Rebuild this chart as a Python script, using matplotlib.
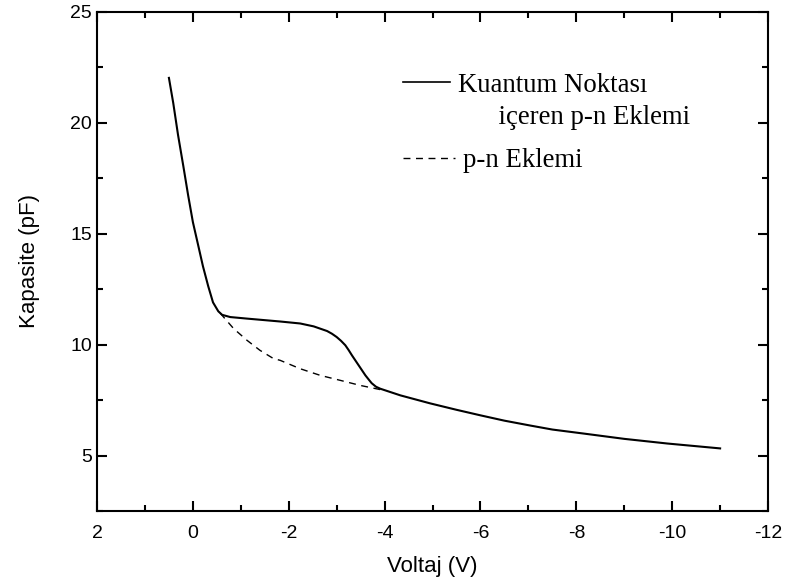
import matplotlib.pyplot as plt
from matplotlib.lines import Line2D
from matplotlib.ticker import MultipleLocator

# Kuantum noktası içeren p-n eklemi (düz çizgi)
v_qd = [0.50, 0.41, 0.31, 0.20, 0.10, 0.00, -0.11, -0.21, -0.32, -0.42, -0.53,
        -0.61, -0.78, -1.13, -1.82, -2.24, -2.52, -2.80, -2.90, -3.00, -3.09,
        -3.18, -3.25, -3.32, -3.46, -3.60, -3.67, -3.73, -3.82, -3.91, -4.12,
        -4.33, -4.95, -5.5, -6.0, -6.5, -7.04, -7.5, -8.15, -9.0, -9.9, -10.5,
        -11.0]
c_qd = [22.02, 20.89, 19.45, 18.05, 16.74, 15.52, 14.48, 13.53, 12.63, 11.90, 11.50,
        11.34, 11.24, 11.17, 11.04, 10.95, 10.82, 10.61, 10.49, 10.34, 10.17,
        9.97, 9.75, 9.51, 9.06, 8.61, 8.42, 8.26, 8.10, 8.01, 7.86,
        7.71, 7.35, 7.06, 6.81, 6.57, 6.35, 6.17, 5.99, 5.75, 5.54, 5.42,
        5.32]

# p-n eklemi (kesikli çizgi)
v_pn = [-0.57, -0.64, -0.85, -1.13, -1.40, -1.68, -1.82, -2.24, -2.66, -3.07, -3.49, -3.91]
c_pn = [11.42, 11.24, 10.72, 10.19, 9.74, 9.37, 9.29, 8.91, 8.61, 8.39, 8.16, 7.97]

plt.rcParams['font.family'] = ['Liberation Sans', 'DejaVu Sans']
plt.rcParams['axes.unicode_minus'] = False

fig = plt.figure(figsize=(7.85, 5.88), dpi=100)
ax = fig.add_axes([0.1236, 0.131, 0.8548, 0.849])

ax.plot(v_qd, c_qd, color='black', lw=1.5)
ax.plot(v_pn, c_pn, color='black', lw=1.0, dashes=(5, 4))

ax.set_xlim(2, -12)
ax.set_ylim(2.5, 25)
ax.xaxis.set_major_locator(MultipleLocator(2))
ax.xaxis.set_minor_locator(MultipleLocator(1))
ax.yaxis.set_major_locator(MultipleLocator(5))
ax.yaxis.set_minor_locator(MultipleLocator(2.5))
ax.tick_params(which='both', direction='in', top=True, right=True, width=1.5,
               labelsize=14)
ax.tick_params(which='major', length=7)
ax.tick_params(which='minor', length=4)
ax.tick_params(axis='x', pad=10)
for s in ax.spines.values():
    s.set_linewidth(1.5)

ax.set_xlabel('Voltaj (V)', fontsize=16, labelpad=10)
ax.set_ylabel('Kapasite (pF)', fontsize=16, labelpad=22)

lfont = {'family': 'Liberation Serif', 'size': 19.3}
h1 = [Line2D([], [], color='black', lw=1.2),
      Line2D([], [], linestyle='none')]
leg1 = ax.legend(h1, ['Kuantum Noktası', '      içeren p-n Eklemi'], prop=lfont,
                 loc='upper left', bbox_to_anchor=(0.456, 0.878), frameon=False,
                 borderpad=0, borderaxespad=0, handlelength=1.75,
                 handletextpad=0.3, labelspacing=0.28)
ax.add_artist(leg1)
h2 = [Line2D([], [], color='black', lw=1.0, dashes=(5, 4))]
ax.legend(h2, ['p-n Eklemi'], prop=lfont, loc='upper left',
          bbox_to_anchor=(0.456, 0.727), frameon=False, borderpad=0,
          borderaxespad=0, handlelength=1.94, handletextpad=0.3)

fig.savefig('out.png', dpi=100)
